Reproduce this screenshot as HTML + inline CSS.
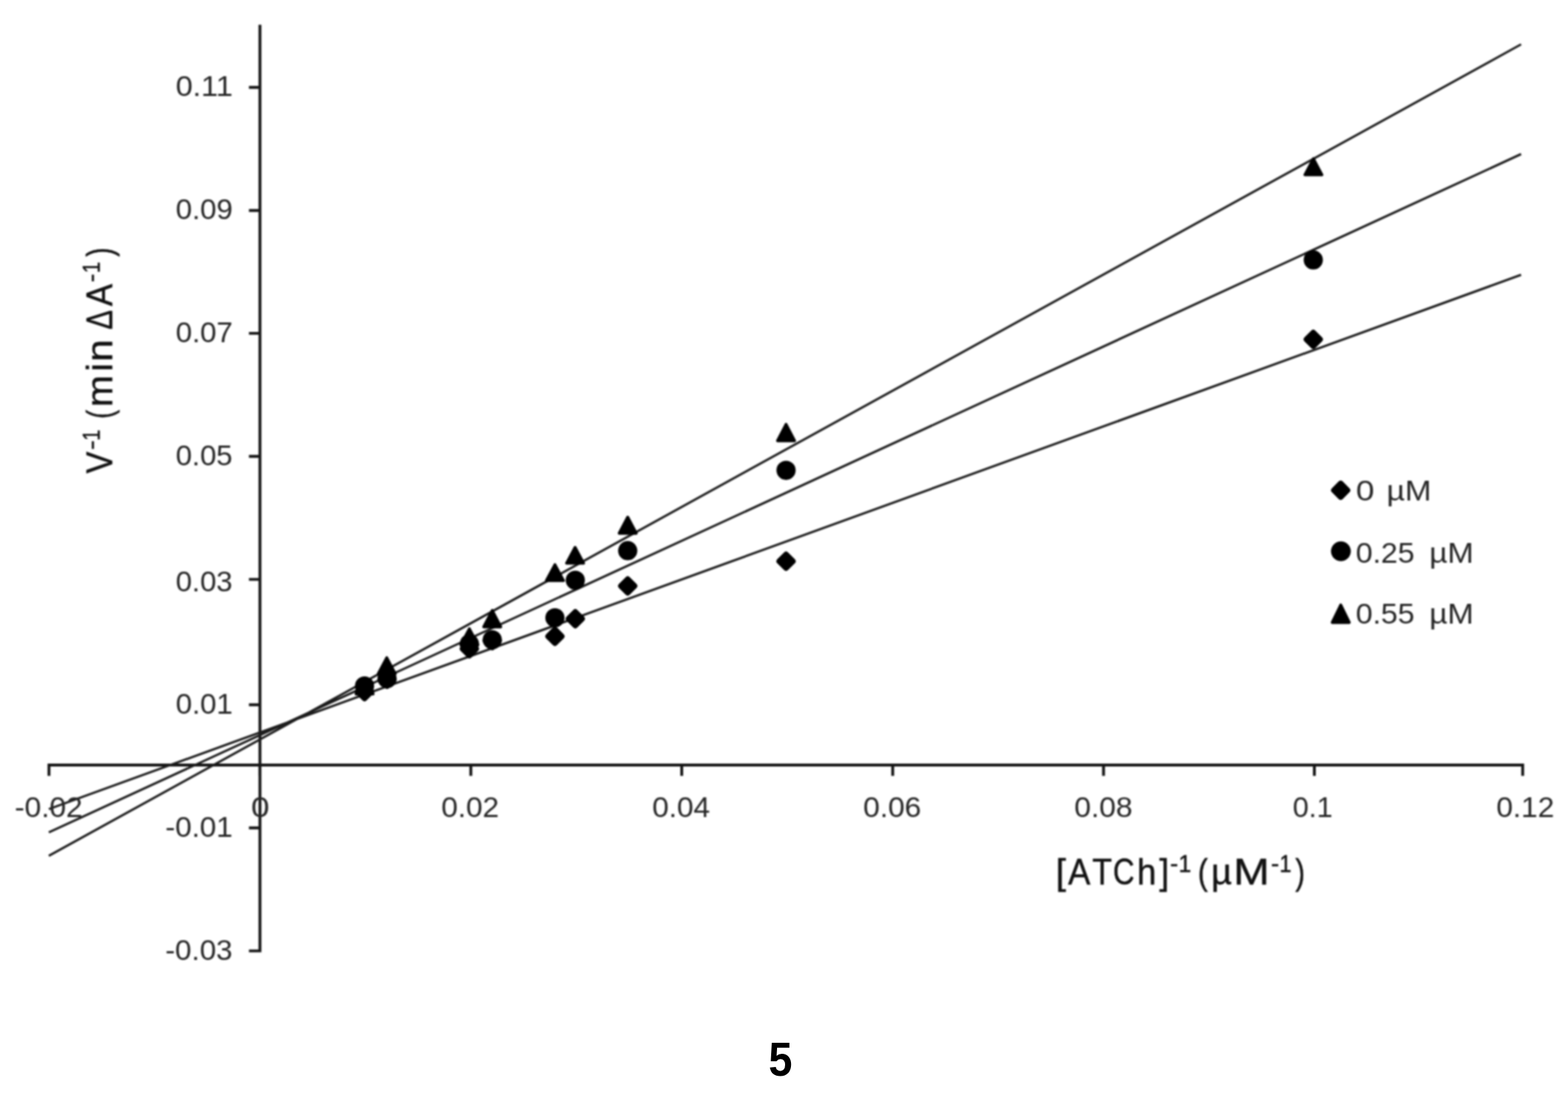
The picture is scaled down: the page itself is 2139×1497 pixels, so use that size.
<!DOCTYPE html>
<html lang="en"><head><meta charset="utf-8"><title>Lineweaver-Burk plot</title>
<style>
html,body{margin:0;padding:0;background:#fff;}
body{width:2139px;height:1497px;overflow:hidden;}
svg{display:block;position:absolute;left:0;top:0;}
text{font-family:'Liberation Sans', sans-serif;}
</style></head><body>
<svg width="2139" height="1497" viewBox="0 0 2139 1497">
<defs>
<filter id="b" filterUnits="userSpaceOnUse" x="0" y="0" width="2139" height="1497" color-interpolation-filters="sRGB"><feGaussianBlur stdDeviation="1.25"/></filter>
<filter id="b5" filterUnits="userSpaceOnUse" x="1000" y="1380" width="140" height="117" color-interpolation-filters="sRGB"><feGaussianBlur stdDeviation="0.5"/></filter>
</defs>
<rect x="0" y="0" width="2139" height="1497" fill="#fff"/>
<g filter="url(#b)" fill="#262626">
<path d="M354.6,33.8V1299.55M64.85,1044.05H2079.15M339.6,119.3H354.6M339.6,287.2H354.6M339.6,454.9H354.6M339.6,622.8H354.6M339.6,790.6H354.6M339.6,961.8H354.6M339.6,1129.7H354.6M339.6,1297.6H354.6M66.8,1044.05V1058.8M354.5,1044.05V1058.8M642.3,1044.05V1058.8M930.0,1044.05V1058.8M1217.8,1044.05V1058.8M1505.4,1044.05V1058.8M1793.0,1044.05V1058.8M2077.2,1044.05V1058.8" fill="none" stroke="#141414" stroke-width="3.9" stroke-linecap="butt"/>
<path d="M66.6,1104.11L2075.0,375.05M66.6,1135.93L2075.0,210.28M66.6,1167.86L2075.0,60.51" fill="none" stroke="#1c1c1c" stroke-width="3.1" stroke-linecap="butt"/>
<path d="M497.30,934.80L506.40,943.90L497.30,953.00L488.20,943.90Z" fill="#000" stroke="#000" stroke-width="8.0" stroke-linejoin="round"/>
<path d="M528.00,917.90L537.10,927.00L528.00,936.10L518.90,927.00Z" fill="#000" stroke="#000" stroke-width="8.0" stroke-linejoin="round"/>
<path d="M640.30,876.30L649.40,885.40L640.30,894.50L631.20,885.40Z" fill="#000" stroke="#000" stroke-width="8.0" stroke-linejoin="round"/>
<path d="M671.50,865.10L680.60,874.20L671.50,883.30L662.40,874.20Z" fill="#000" stroke="#000" stroke-width="8.0" stroke-linejoin="round"/>
<path d="M757.00,859.20L766.10,868.30L757.00,877.40L747.90,868.30Z" fill="#000" stroke="#000" stroke-width="8.0" stroke-linejoin="round"/>
<path d="M784.80,835.30L793.90,844.40L784.80,853.50L775.70,844.40Z" fill="#000" stroke="#000" stroke-width="8.0" stroke-linejoin="round"/>
<path d="M856.30,790.50L865.40,799.60L856.30,808.70L847.20,799.60Z" fill="#000" stroke="#000" stroke-width="8.0" stroke-linejoin="round"/>
<path d="M1072.30,756.80L1081.40,765.90L1072.30,775.00L1063.20,765.90Z" fill="#000" stroke="#000" stroke-width="8.0" stroke-linejoin="round"/>
<path d="M1791.50,454.00L1800.60,463.10L1791.50,472.20L1782.40,463.10Z" fill="#000" stroke="#000" stroke-width="8.0" stroke-linejoin="round"/>
<circle cx="497.30" cy="936.00" r="13.1" fill="#000"/>
<circle cx="528.00" cy="926.00" r="13.1" fill="#000"/>
<circle cx="640.30" cy="878.50" r="13.1" fill="#000"/>
<circle cx="671.50" cy="873.00" r="13.1" fill="#000"/>
<circle cx="757.00" cy="843.00" r="13.1" fill="#000"/>
<circle cx="784.80" cy="791.80" r="13.1" fill="#000"/>
<circle cx="856.30" cy="751.40" r="13.1" fill="#000"/>
<circle cx="1072.30" cy="641.80" r="13.1" fill="#000"/>
<circle cx="1791.50" cy="354.70" r="13.1" fill="#000"/>
<path d="M497.30,925.30L508.90,946.90L485.70,946.90Z" fill="#000" stroke="#000" stroke-width="4.0" stroke-linejoin="round"/>
<path d="M527.60,897.60L539.20,919.40L516.00,919.40Z" fill="#000" stroke="#000" stroke-width="4.0" stroke-linejoin="round"/>
<path d="M640.30,858.10L651.90,879.90L628.70,879.90Z" fill="#000" stroke="#000" stroke-width="4.0" stroke-linejoin="round"/>
<path d="M671.50,833.10L683.10,855.40L659.90,855.40Z" fill="#000" stroke="#000" stroke-width="4.0" stroke-linejoin="round"/>
<path d="M757.00,770.60L768.60,792.20L745.40,792.20Z" fill="#000" stroke="#000" stroke-width="4.0" stroke-linejoin="round"/>
<path d="M784.50,747.00L796.10,768.60L772.90,768.60Z" fill="#000" stroke="#000" stroke-width="4.0" stroke-linejoin="round"/>
<path d="M856.30,705.80L867.90,727.80L844.70,727.80Z" fill="#000" stroke="#000" stroke-width="4.0" stroke-linejoin="round"/>
<path d="M1072.30,579.10L1083.90,601.40L1060.70,601.40Z" fill="#000" stroke="#000" stroke-width="4.0" stroke-linejoin="round"/>
<path d="M1791.70,216.70L1803.30,238.60L1780.10,238.60Z" fill="#000" stroke="#000" stroke-width="4.0" stroke-linejoin="round"/>
<path d="M1828.90,659.90L1838.00,669.00L1828.90,678.10L1819.80,669.00Z" fill="#000" stroke="#000" stroke-width="8.0" stroke-linejoin="round"/>
<circle cx="1829.20" cy="752.20" r="13.5" fill="#000"/>
<path d="M1829.00,825.60L1840.60,849.40L1817.40,849.40Z" fill="#000" stroke="#000" stroke-width="4.0" stroke-linejoin="round"/>
<text y="130.9" font-size="39.0"><tspan x="239.65" textLength="77.97" lengthAdjust="spacingAndGlyphs">0.11</tspan></text>
<text y="299.1" font-size="39.0"><tspan x="239.70" textLength="77.85" lengthAdjust="spacingAndGlyphs">0.09</tspan></text>
<text y="467.3" font-size="39.0"><tspan x="239.70" textLength="77.85" lengthAdjust="spacingAndGlyphs">0.07</tspan></text>
<text y="634.7" font-size="39.0"><tspan x="239.71" textLength="77.43" lengthAdjust="spacingAndGlyphs">0.05</tspan></text>
<text y="806.5" font-size="39.0"><tspan x="239.71" textLength="77.43" lengthAdjust="spacingAndGlyphs">0.03</tspan></text>
<text y="974.0" font-size="39.0"><tspan x="239.70" textLength="77.85" lengthAdjust="spacingAndGlyphs">0.01</tspan></text>
<text y="1142.1" font-size="39.0"><tspan x="225.48" textLength="92.08" lengthAdjust="spacingAndGlyphs">-0.01</tspan></text>
<text y="1309.5" font-size="39.0"><tspan x="225.49" textLength="91.66" lengthAdjust="spacingAndGlyphs">-0.03</tspan></text>
<text y="1114.6" font-size="39.0"><tspan x="19.97" textLength="92.81" lengthAdjust="spacingAndGlyphs">-0.02</tspan></text>
<text y="1114.6" font-size="39.0"><tspan x="342.45" textLength="25.08" lengthAdjust="spacingAndGlyphs">0</tspan></text>
<text y="1114.6" font-size="39.0"><tspan x="601.98" textLength="78.89" lengthAdjust="spacingAndGlyphs">0.02</tspan></text>
<text y="1114.6" font-size="39.0"><tspan x="889.68" textLength="78.98" lengthAdjust="spacingAndGlyphs">0.04</tspan></text>
<text y="1114.6" font-size="39.0"><tspan x="1177.48" textLength="79.30" lengthAdjust="spacingAndGlyphs">0.06</tspan></text>
<text y="1114.6" font-size="39.0"><tspan x="1465.58" textLength="79.40" lengthAdjust="spacingAndGlyphs">0.08</tspan></text>
<text y="1114.6" font-size="39.0"><tspan x="1763.53" textLength="54.38" lengthAdjust="spacingAndGlyphs">0.1</tspan></text>
<text y="1114.6" font-size="39.0"><tspan x="2041.18" textLength="79.09" lengthAdjust="spacingAndGlyphs">0.12</tspan></text>
<text y="683.3" font-size="39.0"><tspan x="1849.65" textLength="25.08" lengthAdjust="spacingAndGlyphs">0</tspan> <tspan x="1891.40" textLength="61.17" lengthAdjust="spacingAndGlyphs">µM</tspan></text>
<text y="768.4" font-size="39.0"><tspan x="1849.46" textLength="80.33" lengthAdjust="spacingAndGlyphs">0.25</tspan> <tspan x="1949.71" textLength="60.73" lengthAdjust="spacingAndGlyphs">µM</tspan></text>
<text y="851.2" font-size="39.0"><tspan x="1849.46" textLength="80.33" lengthAdjust="spacingAndGlyphs">0.55</tspan> <tspan x="1949.71" textLength="60.73" lengthAdjust="spacingAndGlyphs">µM</tspan></text>
<text y="1206.8" font-size="50.5" fill="#111" stroke="#111" stroke-width="0.5"><tspan x="1440.26" textLength="14.03" lengthAdjust="spacingAndGlyphs">[</tspan><tspan x="1457.10" textLength="30.46" lengthAdjust="spacingAndGlyphs">A</tspan><tspan x="1490.02" textLength="27.01" lengthAdjust="spacingAndGlyphs">T</tspan><tspan x="1518.16" textLength="29.45" lengthAdjust="spacingAndGlyphs">C</tspan><tspan x="1551.06" textLength="26.29" lengthAdjust="spacingAndGlyphs">h</tspan><tspan x="1581.50" textLength="13.36" lengthAdjust="spacingAndGlyphs">]</tspan><tspan x="1596.17" textLength="11.06" lengthAdjust="spacingAndGlyphs" dy="-17.00" font-size="33.0">-</tspan><tspan x="1607.72" textLength="17.32" lengthAdjust="spacingAndGlyphs" font-size="33.0">1</tspan> <tspan x="1634.03" textLength="13.69" lengthAdjust="spacingAndGlyphs" dy="17.00">(</tspan><tspan x="1652.27" textLength="28.12" lengthAdjust="spacingAndGlyphs">µ</tspan><tspan x="1682.46" textLength="49.37" lengthAdjust="spacingAndGlyphs">M</tspan><tspan x="1733.76" textLength="11.19" lengthAdjust="spacingAndGlyphs" dy="-17.00" font-size="33.0">-</tspan><tspan x="1745.56" textLength="16.18" lengthAdjust="spacingAndGlyphs" font-size="33.0">1</tspan><tspan x="1767.10" textLength="13.20" lengthAdjust="spacingAndGlyphs" dy="17.00">)</tspan></text>
<text transform="translate(153.2,700.0) rotate(-90)" y="0" font-size="50.5" fill="#111" stroke="#111" stroke-width="0.5"><tspan x="54.10" textLength="29.67" lengthAdjust="spacingAndGlyphs">V</tspan><tspan x="86.02" textLength="13.19" lengthAdjust="spacingAndGlyphs" dy="-17.00" font-size="33.0">-</tspan><tspan x="98.74" textLength="14.79" lengthAdjust="spacingAndGlyphs" font-size="33.0">1</tspan> <tspan x="128.50" textLength="12.21" lengthAdjust="spacingAndGlyphs" dy="17.00">(</tspan><tspan x="144.56" textLength="43.64" lengthAdjust="spacingAndGlyphs">m</tspan><tspan x="192.60" textLength="12.22" lengthAdjust="spacingAndGlyphs">i</tspan><tspan x="206.20" textLength="30.59" lengthAdjust="spacingAndGlyphs">n</tspan> <tspan x="250.20" textLength="26.61" lengthAdjust="spacingAndGlyphs">Δ</tspan><tspan x="282.20" textLength="30.26" lengthAdjust="spacingAndGlyphs">A</tspan><tspan x="314.79" textLength="11.72" lengthAdjust="spacingAndGlyphs" dy="-17.00" font-size="33.0">-</tspan><tspan x="327.36" textLength="15.42" lengthAdjust="spacingAndGlyphs" font-size="33.0">1</tspan><tspan x="349.70" textLength="12.49" lengthAdjust="spacingAndGlyphs" dy="17.00">)</tspan></text>
</g>
<text y="1468.0" font-size="64.6" font-weight="bold" fill="#000" filter="url(#b5)"><tspan x="1048.45" textLength="32.37" lengthAdjust="spacingAndGlyphs">5</tspan></text>
</svg>
</body></html>
